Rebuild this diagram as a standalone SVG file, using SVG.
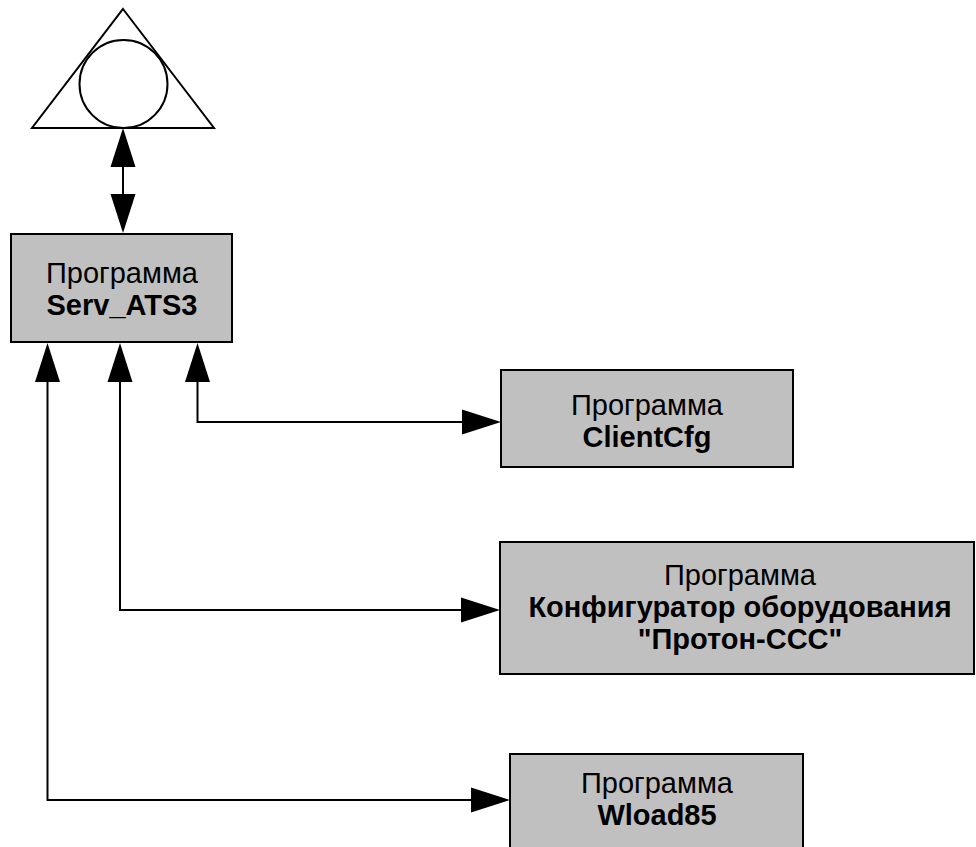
<svg xmlns="http://www.w3.org/2000/svg" width="976" height="847" viewBox="0 0 976 847">
<style>
.box{fill:#c0c0c0;stroke:#000;stroke-width:2}
.t{font-family:"Liberation Sans",Arial,sans-serif;font-size:29px;fill:#000;text-anchor:middle}
.b{font-weight:bold}
.c{fill:none;stroke:#000;stroke-width:2}
.sym{fill:#fff;stroke:#000;stroke-width:2}
</style>
<defs>
<marker id="ah" markerUnits="userSpaceOnUse" viewBox="0 -12.5 39 25" markerWidth="39" markerHeight="25" refX="0" refY="0" orient="auto-start-reverse" overflow="visible">
<path d="M0,-12.5 L39,0 L0,12.5 z" fill="#000"/>
</marker>
</defs>
<g id="symbol">
<polygon class="sym" points="123,9 214,128 32,128"/>
<circle class="sym" cx="123.5" cy="84" r="44"/>
</g>
<g id="connectors">
<path class="c" d="M123,167 V194" marker-start="url(#ah)" marker-end="url(#ah)"/>
<path class="c" d="M462,422 H197.5 V382" marker-start="url(#ah)" marker-end="url(#ah)"/>
<path class="c" d="M461,610 H120 V382" marker-start="url(#ah)" marker-end="url(#ah)"/>
<path class="c" d="M471,800 H47.5 V382" marker-start="url(#ah)" marker-end="url(#ah)"/>
</g>
<g id="serv">
<rect class="box" x="11" y="234" width="221" height="108"/>
<text class="t" x="122" y="283">Программа</text>
<text class="t b" x="122" y="315">Serv_ATS3</text>
</g>
<g id="clientcfg">
<rect class="box" x="501" y="370" width="292" height="97"/>
<text class="t" x="647" y="415">Программа</text>
<text class="t b" x="647" y="447">ClientCfg</text>
</g>
<g id="configurator">
<rect class="box" x="500" y="542" width="474" height="132"/>
<text class="t" x="740" y="585">Программа</text>
<text class="t b" x="740" y="617">Конфигуратор оборудования</text>
<text class="t b" x="740" y="649">"Протон-ССС"</text>
</g>
<g id="wload">
<rect class="box" x="510" y="754" width="293" height="100"/>
<text class="t" x="657" y="793">Программа</text>
<text class="t b" x="657" y="825">Wload85</text>
</g>
</svg>
